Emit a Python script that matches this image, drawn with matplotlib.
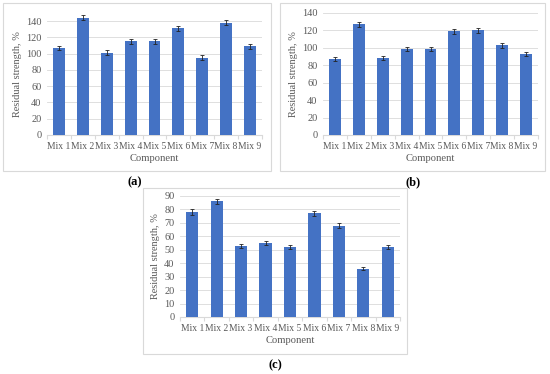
import matplotlib.pyplot as plt
from matplotlib.patches import Rectangle

mixes = ["Mix 1", "Mix 2", "Mix 3", "Mix 4", "Mix 5", "Mix 6", "Mix 7", "Mix 8", "Mix 9"]

strength_a = [107, 144, 101, 115, 115, 131, 95, 138, 109]
err_a = [3, 3, 3, 3, 3, 3, 3, 3, 3]
strength_b = [87, 127, 88, 99, 99, 119, 120, 103, 93]
err_b = [2.5, 3, 2.5, 2.5, 2.5, 3, 3, 3, 2.5]
strength_c = [78, 86, 53, 55, 52, 77, 68, 36, 52]
err_c = [2, 2, 1.5, 1.5, 1.5, 2, 2, 1, 1.5]

W, H = 550, 374
BAR = "#4472C4"
GRID = "#d9d9d9"
plt.rcParams['font.family'] = ['Liberation Serif', 'DejaVu Serif']

fig = plt.figure(figsize=(5.5, 3.74), dpi=100)


def px_axes(left, right, top, bottom):
    # pixel coords (y measured from top) -> figure fraction
    return fig.add_axes([left / W, 1 - bottom / H, (right - left) / W, (bottom - top) / H])


def box(left, right, top, bottom):
    fig.patches.append(Rectangle((left / W, 1 - bottom / H), (right - left) / W, (bottom - top) / H,
                                 transform=fig.transFigure, fill=False, edgecolor=GRID, lw=0.8))


def panel(ax, vals, errs, ymax, ytop, step):
    x = range(len(mixes))
    ax.bar(x, vals, width=0.5, color=BAR, zorder=3)
    ax.errorbar(x, vals, yerr=errs, fmt="none", ecolor="#222222", elinewidth=0.6,
                capsize=1.5, capthick=0.6, zorder=4)
    ax.set_xlim(-0.5, len(mixes) - 0.5)
    ax.set_ylim(0, ytop)
    ax.set_yticks(range(0, ymax + 1, step))
    ax.set_xticks(list(x))
    ax.set_xticklabels(mixes)
    ax.set_xticks([i - 0.5 for i in range(len(mixes) + 1)], minor=True)
    ax.grid(axis="y", color=GRID, lw=0.6, zorder=0)
    for s in ["top", "right", "left"]:
        ax.spines[s].set_visible(False)
    ax.spines["bottom"].set_color(GRID)
    ax.spines["bottom"].set_linewidth(0.8)
    ax.tick_params(axis="x", which="major", length=0, labelsize=6.9, colors="#595959", pad=5)
    ax.tick_params(axis="x", which="minor", length=3, color=GRID, width=0.8)
    ax.tick_params(axis="y", length=0, labelsize=7.4, colors="#595959", pad=4)
    ax.set_xlabel("Component", fontsize=7.6, color="#595959", labelpad=2)
    ax.set_ylabel("Residual strength, %", fontsize=7.4, color="#595959", labelpad=3)


# (a)
box(3, 271, 3, 171)
ax_a = px_axes(47, 262, 13, 135)
panel(ax_a, strength_a, err_a, 140, 150, 20)

# (b)
box(280, 545, 3, 171)
ax_b = px_axes(323, 538, 13, 135)
panel(ax_b, strength_b, err_b, 140, 140, 20)

# (c)
box(143, 407, 188, 354)
ax_c = px_axes(180, 400, 196, 317)
panel(ax_c, strength_c, err_c, 90, 90, 10)

for label, cx, cy in [("(a)", 135, 182), ("(b)", 413, 182), ("(c)", 275, 365)]:
    fig.text(cx / W, 1 - cy / H, label, ha="center", va="center", fontsize=9, fontweight="bold",
             color="black")

fig.savefig("out.png", dpi=100)
